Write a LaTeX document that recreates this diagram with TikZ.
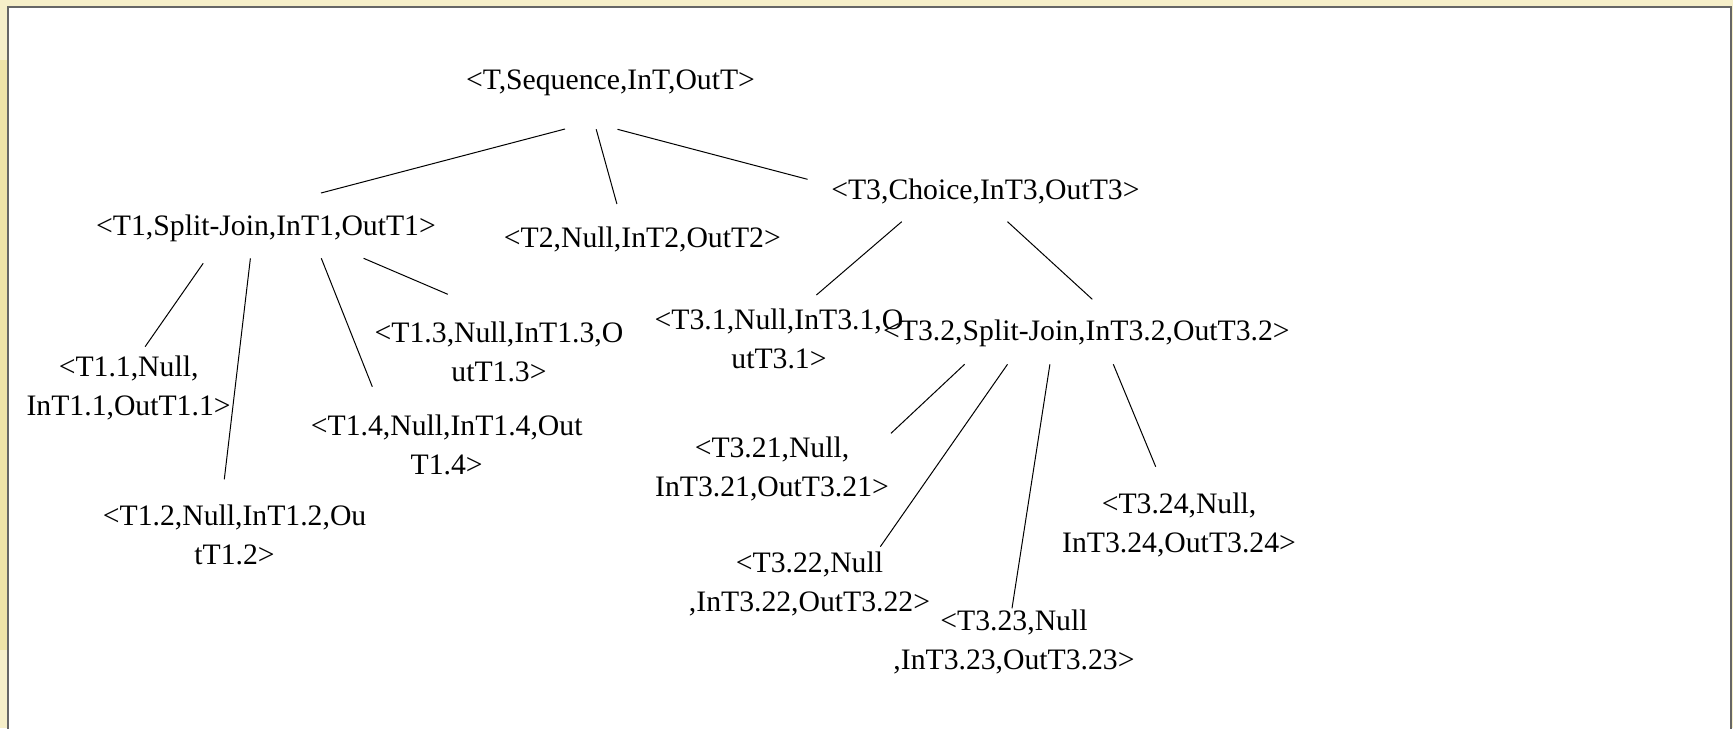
\documentclass[tikz,border=0pt]{standalone}
\usepackage{fontspec}
\setmainfont{Liberation Serif}
\usetikzlibrary{calc}
\definecolor{pagebg}{HTML}{F6EFC9}
\definecolor{sidestrip}{HTML}{EEE3A8}
\definecolor{framegray}{HTML}{666666}
\tikzset{
  task/.style={anchor=base, align=center, inner sep=0pt, text=black,
    font=\fontsize{14.85pt}{19.3pt}\selectfont},
  link/.style={draw=black, line width=0.5pt}
}
\begin{document}
\begin{tikzpicture}[x=0.5pt, y=-0.5pt]
\useasboundingbox (0,0) rectangle (1733,728);
% page background and white panel
\fill[pagebg] (0,0) rectangle (1733,728);
\fill[sidestrip] (0,60) rectangle (8,650);
\filldraw[fill=white, draw=framegray, line width=1pt] (8,7) rectangle (1731,740);

% task tree (two-line nodes are placed by the baseline of their last line)
\node[task] (root) at (610.5,89)  {<T,Sequence,InT,OutT>};
\node[task] (t1)   at (266,235)   {<T1,Split-Join,InT1,OutT1>};
\node[task] (t2)   at (642.4,247) {<T2,Null,InT2,OutT2>};
\node[task] (t3)   at (985.4,199) {<T3,Choice,InT3,OutT3>};
\node[task] (t11)  at (128.6,415) {<T1.1,Null,\\InT1.1,OutT1.1>};
\node[task] (t12)  at (234.6,564) {<T1.2,Null,InT1.2,Ou\\tT1.2>};
\node[task] (t13)  at (499,381.5) {<T1.3,Null,InT1.3,O\\utT1.3>};
\node[task] (t14)  at (446.7,474) {<T1.4,Null,InT1.4,Out\\T1.4>};
\node[task] (t31)  at (779,368.5) {<T3.1,Null,InT3.1,O\\utT3.1>};
\node[task] (t32)  at (1086.4,340) {<T3.2,Split-Join,InT3.2,OutT3.2>};
\node[task] (t321) at (772,496)   {<T3.21,Null,\\InT3.21,OutT3.21>};
\node[task] (t322) at (809.5,611) {<T3.22,Null\\,InT3.22,OutT3.22>};
\node[task] (t323) at (1014,669)  {<T3.23,Null\\,InT3.23,OutT3.23>};
\node[task] (t324) at (1179,552.5) {<T3.24,Null,\\InT3.24,OutT3.24>};

% parent-child links
\draw[link] ($(root.base)+(-45.5,40)$) -- ($(t1.base)+(55,-42)$);
\draw[link] ($(root.base)+(-14.3,40.3)$) -- ($(t2.base)+(-25.5,-43)$);
\draw[link] ($(root.base)+(7,40.3)$) -- ($(t3.base)+(-177.9,-19.7)$);

\draw[link] ($(t1.base)+(-62.8,28.3)$) -- ($(t11.base)+(16.5,-68.3)$);
\draw[link] ($(t1.base)+(-15.6,23.3)$) -- ($(t12.base)+(-10.3,-84.7)$);
\draw[link] ($(t1.base)+(55.3,23.3)$) -- ($(t14.base)+(-74.4,-87.3)$);
\draw[link] ($(t1.base)+(97.6,23.3)$) -- ($(t13.base)+(-51.2,-87.2)$);

\draw[link] ($(t3.base)+(-83.7,22.7)$) -- ($(t31.base)+(37.4,-73.5)$);
\draw[link] ($(t3.base)+(22.1,22.7)$) -- ($(t32.base)+(5.9,-40.7)$);

\draw[link] ($(t32.base)+(-121.8,24.3)$) -- ($(t321.base)+(119,-62.7)$);
\draw[link] ($(t32.base)+(-78.9,24.3)$) -- ($(t322.base)+(70.8,-64.3)$);
\draw[link] ($(t32.base)+(-36.5,24.3)$) -- ($(t323.base)+(-2,-60.7)$);
\draw[link] ($(t32.base)+(26.9,24.3)$) -- ($(t324.base)+(-23.3,-85.8)$);
\end{tikzpicture}
\end{document}
